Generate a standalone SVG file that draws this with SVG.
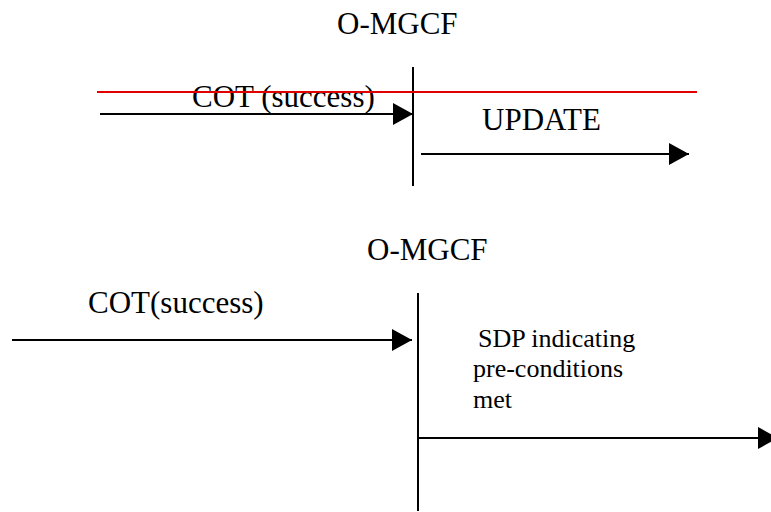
<svg xmlns="http://www.w3.org/2000/svg" width="771" height="512" viewBox="0 0 771 512">
<style>
.big{font-size:31px}
.small{font-size:26px}
.ln{stroke:#000;stroke-width:2;fill:none}
.msg{stroke:#000;stroke-width:2;fill:none;marker-end:url(#ah)}
</style>
<defs>
<marker id="ah" markerUnits="userSpaceOnUse" markerWidth="22" markerHeight="24" refX="20" refY="11" orient="auto">
<polygon points="0,0 20,11 0,22" fill="#000"/>
</marker>
</defs>
<rect width="771" height="512" fill="#fff"/>
<g font-family="Liberation Serif, serif" fill="#000">
<g id="top-mgcf">
<text class="big" x="337" y="34">O-MGCF</text>
<line class="ln" x1="413" y1="67" x2="413" y2="186"/>
</g>
<g id="bottom-mgcf">
<text class="big" x="367" y="260">O-MGCF</text>
<line class="ln" x1="418" y1="293" x2="418" y2="511"/>
</g>
<g id="connectors">
<line class="msg" x1="100" y1="114" x2="413" y2="114"/>
<line class="msg" x1="421" y1="154" x2="689" y2="154"/>
<line class="msg" x1="12" y1="340" x2="412" y2="340"/>
<line class="msg" x1="418" y1="438" x2="778" y2="438"/>
</g>
<g id="labels">
<text class="big" x="192" y="107">COT (success)</text>
<text class="big" x="482" y="130">UPDATE</text>
<text class="big" x="88" y="313">COT(success)</text>
<text class="small" x="478" y="347">SDP indicating</text>
<text class="small" x="473" y="377">pre-conditions</text>
<text class="small" x="473" y="408">met</text>
</g>
</g>
<g id="red-line">
<line x1="97" y1="92" x2="697" y2="92" stroke="#e00000" stroke-width="2"/>
</g>
</svg>
